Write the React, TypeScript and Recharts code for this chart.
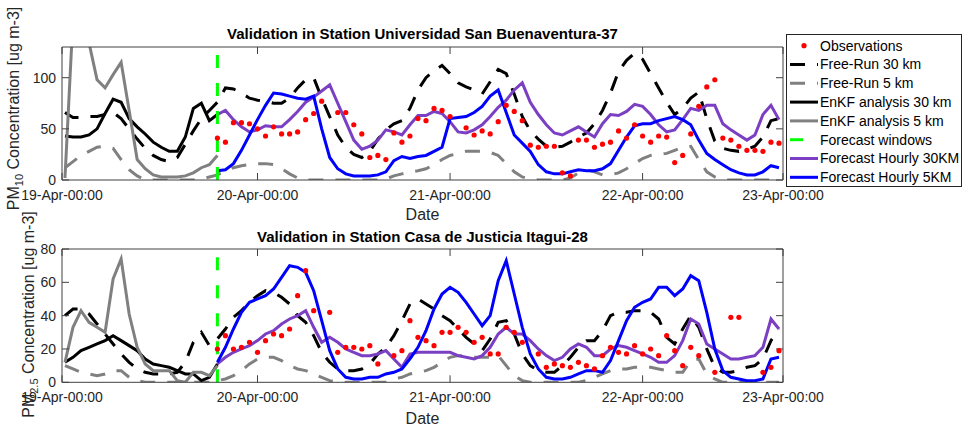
import { LineChart, Line, XAxis, YAxis, ReferenceLine } from "recharts";

const FONT = '"Liberation Sans", Arial, Helvetica, sans-serif';
const INK = "#262626";
const BOX = "#404040";

// hour 0 = 19-Apr 00:00, one value per hour
const HOUR_DOMAIN: [number, number] = [-0.37, 89.5];
const TICK_HOURS = [-0.37, 24, 48, 72, 89.5];
const TICK_LABELS = ["19-Apr-00:00", "20-Apr-00:00", "21-Apr-00:00", "22-Apr-00:00", "23-Apr-00:00"];
const FORECAST_START = 19;

// ---- PM10, Universidad San Buenaventura-37 ----
const pm10Free30 = [
  66, 61, 61, 62, 62, 64, 66, 60, 50, 40,
  31, 24, 20, 18, 22, 35, 48, 60, 68, 76,
  90, 89, 85, 80, 78, 77, 75, 75, 80, 90,
  98, 100, 80, 62, 44, 32, 25, 22, 28, 40,
  49, 55, 58, 70, 88, 100, 107, 112, 104, 95,
  91, 88, 84, 96, 108, 104, 84, 62, 48, 40,
  33, 32, 33, 37, 42, 46, 55, 68, 85, 106,
  117, 124, 118, 104, 90, 76, 64, 70, 80, 86,
  60, 38, 31, 29, 28, 30, 33, 42, 58, 60,
];
const pm10Free5 = [
  12, 18, 24, 28, 32, 33, 31, 20, 10, 4,
  0, 0, 0, 0, 0, 0, 0, 1, 3, 5,
  9, 12, 14, 15, 16, 16, 15, 11, 6, 2,
  0, 0, 0, 0, 0, 0, 0, 0, 0, 0,
  1, 4, 6, 8, 9, 11, 15, 20, 24, 26,
  28, 28, 28, 27, 24, 16, 8, 3, 1, 0,
  0, 0, 0, 2, 7, 10, 8, 5, 5, 7,
  11, 16, 21, 24, 25, 26, 29, 32, 33, 20,
  8, 3, 0, 0, 0, 0, 0, 0, 0, 0,
];
// analysis runs up to the forecast start
const pm10Enkf30 = [43, 42, 42, 44, 50, 65, 79, 76, 60, 52, 45, 37, 32, 28, 28, 42, 70, 75, 58, 64];
const pm10Enkf5 = [2, 158, 152, 134, 98, 90, 103, 115, 68, 20, 11, 5, 3, 3, 3, 4, 7, 12, 15, 24];
// observations and forecasts start at FORECAST_START
const pm10Obs = [
  41, 37, 56, 56, 55, 50, 43, 52, 45, 45,
  47, 59, 65, 77, null, 66, 66, 54, 45, 22,
  24, 20, 46, 37, 43, 60, 58, 70, 68, 62,
  null, 51, 44, 48, 45, 57, 73, 67, 58, 34,
  32, 33, 33, 7, 4, 39, 39, 32, 35, 37,
  48, 41, 54, 43, 37, 43, 42, 17, 24, 45,
  72, 91, 98, 41, 39, 33, 29, 29, 28, 37,
  36,
];
const pm10Fc30 = [
  64, 68, 59, 52, 47, 49, 53, 52, 52, 59,
  67, 76, 81, 87, 93, 75, 57, 39, 30, 33,
  39, 49, 47, 44, 54, 63, 63, 67, 65, 57,
  47, 46, 49, 54, 62, 71, 78, 88, 95, 76,
  64, 54, 46, 44, 48, 52, 47, 42, 55, 64,
  63, 67, 74, 72, 64, 54, 47, 49, 59, 70,
  68, 73, 73, 55, 49, 44, 39, 44, 64, 73,
  59,
];
const pm10Fc5 = [
  9, 10, 16, 29, 44, 59, 73, 85, 84, 82,
  80, 79, 82, 50, 22, 11, 6, 4, 4, 4,
  5, 8, 19, 23, 21, 23, 24, 28, 32, 60,
  61, 62, 66, 72, 82, 88, 66, 44, 36, 28,
  15, 8, 6, 6, 8, 10, 9, 9, 11, 16,
  29, 42, 53, 55, 55, 58, 60, 62, 59, 54,
  39, 26, 20, 15, 10, 7, 5, 5, 8, 14,
  12,
];

// ---- PM2.5, Casa de Justicia Itagui-28 ----
const pm25Free30 = [
  40, 44, 44, 41, 35, 29, 23, 17, 12, 8,
  6, 5, 5, 5, 6, 12, 24, 30, 22, 26,
  32, 39, 43, 48, 52, 55, 54, 51, 47, 40,
  36, 28, 18, 12, 8, 7, 7, 8, 11, 17,
  21, 28, 37, 47, 50, 47, 44, 40, 37, 32,
  27, 23, 19, 26, 36, 37, 29, 17, 10, 7,
  6, 6, 10, 15, 21, 25, 25, 31, 40, 42,
  42, 43, 43, 42, 38, 27, 23, 32, 40, 33,
  20, 9, 6, 6, 7, 9, 10, 14, 25, 32,
];
const pm25Free5 = [
  10, 8, 6, 5, 4, 5, 7, 7, 3, 1,
  0, 0, 0, 0, 0, 0, 0, 0, 0, 1,
  2, 4, 7, 11, 14, 15, 15, 13, 10, 8,
  7, 5, 3, 1, 0, 0, 0, 0, 0, 0,
  0, 2, 3, 5, 6, 7, 9, 12, 15, 16,
  16, 15, 15, 15, 16, 10, 4, 1, 0, 0,
  0, 0, 0, 0, 0, 1, 3, 5, 7, 8,
  8, 9, 9, 9, 8, 7, 6, 6, 13, 14,
  5, 2, 0, 0, 0, 0, 0, 0, 0, 0,
];
const pm25Enkf30 = [12, 15, 19, 21, 23, 25, 28, 25, 22, 19, 14, 11, 10, 9, 7, 5, 5, 1, 3, 11];
const pm25Enkf5 = [12, 33, 43, 36, 33, 30, 62, 74, 41, 21, 11, 7, 7, 7, 1, 0, 6, 6, 4, 10];
const pm25Obs = [
  20, 28, 20, 21, 24, 18, 25, 29, 28, 32,
  52, 67, 43, null, 42, 18, 21, 21, 20, 22,
  11, null, 16, 19, 37, 27, 25, 22, 30, 30,
  33, 30, 24, 27, 17, 17, 33, 30, 24, null,
  17, 9, 11, 10, 9, 12, 10, 8, 16, 21,
  18, 17, 22, 17, 20, 16, 28, 19, 10, 21,
  16, null, 6, null, 39, 39, null, null, 6, 9,
  19,
];
const pm25Fc30 = [
  11, 15, 18, 20, 22, 25, 29, 31, 35, 38,
  40, 43, 33, 24, 27, 24, 20, 18, 16, 16,
  17, 19, 14, 9, 17, 18, 18, 18, 18, 18,
  16, 15, 14, 16, 21, 29, 33, 29, 29, 25,
  20, 16, 13, 15, 20, 23, 21, 16, 16, 20,
  22, 21, 19, 17, 15, 12, 12, 16, 25, 38,
  35, 23, 20, 17, 14, 14, 15, 16, 21, 38,
  32,
];
const pm25Fc5 = [
  12, 21, 32, 42, 48, 50, 52, 56, 63, 70,
  69, 66, 55, 37, 19, 8, 3, 2, 2, 3,
  3, 5, 6, 8, 14, 21, 31, 44, 53, 57,
  54, 48, 41, 34, 40, 61, 73, 53, 33, 17,
  8, 3, 2, 2, 3, 5, 7, 7, 6, 13,
  25, 37, 45, 48, 50, 57, 57, 52, 56, 64,
  61, 42, 20, 7, 3, 2, 1, 1, 2, 14,
  15,
];

type Val = number | null;
type Row = Record<string, Val>;

const at = (arr: Val[], i: number): Val => (i >= 0 && i < arr.length ? arr[i] : null);

function buildRows(
  free30: Val[], free5: Val[], enkf30: Val[], enkf5: Val[],
  obs: Val[], fc30: Val[], fc5: Val[],
): Row[] {
  return free30.map((v, h) => ({
    hour: h,
    obs: at(obs, h - FORECAST_START),
    free30: v,
    free5: free5[h],
    enkf30: at(enkf30, h),
    enkf5: at(enkf5, h),
    fc30: at(fc30, h - FORECAST_START),
    fc5: at(fc5, h - FORECAST_START),
  }));
}

const RED = "#ff0000";
const GRAY = "#808080";
const GREEN = "#00ff00";
const PURPLE = "#7b3fc4";
const BLUE = "#0000ff";
const DASH = "15 12";
const WINDOW_DASH = "13 15";

const LINES = [
  { key: "free30", color: "#000000", dash: DASH },
  { key: "free5", color: GRAY, dash: DASH },
  { key: "enkf30", color: "#000000", dash: undefined },
  { key: "enkf5", color: GRAY, dash: undefined },
  { key: "fc30", color: PURPLE, dash: undefined },
  { key: "fc5", color: BLUE, dash: undefined },
];

const LEGEND = [
  { name: "Observations", color: RED, kind: "dot" },
  { name: "Free-Run 30 km", color: "#000000", kind: "dash" },
  { name: "Free-Run 5 km", color: GRAY, kind: "dash" },
  { name: "EnKF analysis 30 km", color: "#000000", kind: "line" },
  { name: "EnKF analysis 5 km", color: GRAY, kind: "line" },
  { name: "Forecast windows", color: GREEN, kind: "window" },
  { name: "Forecast Hourly 30KM", color: PURPLE, kind: "line" },
  { name: "Forecast Hourly 5KM", color: BLUE, kind: "line" },
];

type PanelSpec = {
  rows: Row[];
  yDomain: [number, number];
  yTicks: number[];
  top: number;
  height: number;
  marginTop: number;
  marginBottom: number;
};

const PANELS: PanelSpec[] = [
  {
    rows: buildRows(pm10Free30, pm10Free5, pm10Enkf30, pm10Enkf5, pm10Obs, pm10Fc30, pm10Fc5),
    yDomain: [0, 130],
    yTicks: [0, 50, 100],
    top: 0,
    height: 222,
    marginTop: 37,
    marginBottom: 12,
  },
  {
    rows: buildRows(pm25Free30, pm25Free5, pm25Enkf30, pm25Enkf5, pm25Obs, pm25Fc30, pm25Fc5),
    yDomain: [0, 80],
    yTicks: [0, 20, 40, 60, 80],
    top: 200,
    height: 229,
    marginTop: 39,
    marginBottom: 16.7,
  },
];

const tickStyle = { fill: INK, fontSize: 14, fontFamily: FONT };
const dateLabel = (v: number) => TICK_LABELS[TICK_HOURS.indexOf(v)] ?? "";
const blank = () => "";

function Panel({ p }: { p: PanelSpec }) {
  return (
    <div style={{ position: "absolute", left: 0, top: p.top }}>
      <LineChart
        width={962}
        height={p.height}
        data={p.rows}
        margin={{ top: p.marginTop, right: 169, bottom: p.marginBottom, left: 0 }}
      >
        <XAxis
          xAxisId="top"
          orientation="top"
          dataKey="hour"
          type="number"
          domain={HOUR_DOMAIN}
          ticks={TICK_HOURS}
          interval={0}
          height={10}
          tickSize={-7}
          tickFormatter={blank}
          stroke={BOX}
          allowDataOverflow
        />
        <XAxis
          dataKey="hour"
          type="number"
          domain={HOUR_DOMAIN}
          ticks={TICK_HOURS}
          interval={0}
          height={30}
          tickSize={-7}
          tickMargin={17}
          tickFormatter={dateLabel}
          tick={tickStyle}
          stroke={BOX}
          allowDataOverflow
        />
        <YAxis
          type="number"
          domain={p.yDomain}
          ticks={p.yTicks}
          interval={0}
          width={62}
          tickSize={-7}
          tickMargin={13}
          tick={tickStyle}
          stroke={BOX}
          allowDataOverflow
        />
        <YAxis
          yAxisId="right"
          orientation="right"
          type="number"
          domain={p.yDomain}
          ticks={p.yTicks}
          interval={0}
          width={10}
          tickSize={-7}
          tickFormatter={blank}
          stroke={BOX}
          allowDataOverflow
        />
        <Line
          dataKey="obs"
          stroke="none"
          dot={{ r: 2.6, fill: RED, stroke: "none" }}
          activeDot={false}
          isAnimationActive={false}
        />
        {LINES.map((l) => (
          <Line
            key={l.key}
            dataKey={l.key}
            type="linear"
            stroke={l.color}
            strokeWidth={3}
            strokeDasharray={l.dash}
            dot={false}
            activeDot={false}
            isAnimationActive={false}
          />
        ))}
        <ReferenceLine x={FORECAST_START} stroke={GREEN} strokeWidth={3} strokeDasharray={WINDOW_DASH} />
      </LineChart>
    </div>
  );
}

function AxisTexts() {
  const yLabel = (x: number, y: number, sub: string) => (
    <text
      transform={`translate(${x},${y}) rotate(-90)`}
      textAnchor="middle"
      fontSize={16}
      fill={INK}
    >
      <tspan dy={5.6}>PM</tspan>
      <tspan dy={4} fontSize={11}>{sub}</tspan>
      <tspan dy={-4}> Concentration [ug m-3]</tspan>
    </text>
  );
  return (
    <svg
      width={962}
      height={429}
      style={{ position: "absolute", left: 0, top: 0, fontFamily: FONT, pointerEvents: "none" }}
    >
      <text x={422.5} y={39} textAnchor="middle" fontSize={15} fontWeight="bold" fill="#000">
        Validation in Station Universidad San Buenaventura-37
      </text>
      <text x={422.5} y={242.4} textAnchor="middle" fontSize={15} fontWeight="bold" fill="#000">
        Validation in Station Casa de Justicia Itagui-28
      </text>
      <text x={422.5} y={219.7} textAnchor="middle" fontSize={16} fill={INK}>Date</text>
      <text x={422.5} y={423.5} textAnchor="middle" fontSize={16} fill={INK}>Date</text>
      {yLabel(13, 108.5, "10")}
      {yLabel(28, 314.5, "2.5")}
    </svg>
  );
}

function LegendBox() {
  const rowY = (i: number) => 11.7 + i * 18.8;
  return (
    <svg
      width={176}
      height={154}
      style={{ position: "absolute", left: 786, top: 34, fontFamily: FONT }}
    >
      <rect x={0.5} y={0.5} width={175} height={152} fill="#fff" stroke={INK} />
      {LEGEND.map((e, i) => {
        const y = rowY(i);
        return (
          <g key={e.name}>
            {e.kind === "dot" ? (
              <circle cx={18} cy={y} r={2.6} fill={e.color} />
            ) : (
              <line
                x1={4}
                x2={32}
                y1={y}
                y2={y}
                stroke={e.color}
                strokeWidth={3}
                strokeDasharray={e.kind === "dash" ? DASH : e.kind === "window" ? WINDOW_DASH : undefined}
              />
            )}
            <text x={34} y={y} dy="0.35em" fontSize={14} fill="#000">
              {e.name}
            </text>
          </g>
        );
      })}
    </svg>
  );
}

export default function App() {
  return (
    <div
      style={{
        position: "absolute",
        left: 0,
        top: 0,
        width: 962,
        height: 429,
        background: "#fff",
        fontFamily: FONT,
      }}
    >
      {PANELS.map((p, i) => (
        <Panel key={i} p={p} />
      ))}
      <AxisTexts />
      <LegendBox />
    </div>
  );
}
